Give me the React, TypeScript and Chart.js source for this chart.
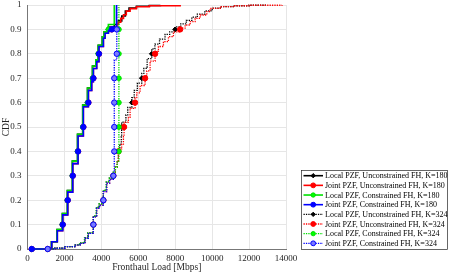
import React, { useEffect, useRef } from "react";
import { Chart, registerables } from "chart.js";
import { drawPoint } from "chart.js/helpers";

Chart.register(...registerables);

// ---------------- data ----------------
const xTickValues = [0, 2000, 4000, 6000, 8000, 10000, 12000, 14000];
const yTickValues = [0, 0.1, 0.2, 0.3, 0.4, 0.5, 0.6, 0.7, 0.8, 0.9, 1];
const markerLevels = [0.1, 0.2, 0.3, 0.4, 0.5, 0.6, 0.7, 0.8, 0.9];

const seriesNames = [
  "Local PZF, Unconstrained FH, K=180",
  "Joint PZF, Unconstrained FH, K=180",
  "Local PZF, Constrained FH, K=180",
  "Joint PZF, Constrained FH, K=180",
  "Local PZF, Unconstrained FH, K=324",
  "Joint PZF, Unconstrained FH, K=324",
  "Local PZF, Constrained FH, K=324",
  "Joint PZF, Constrained FH, K=324",
];

// K=180, Local PZF, Unconstrained
const localUncK180X = [230, 1094, 1300, 1600, 1890, 1890, 2160, 2160, 2430, 2430, 2710, 2710, 2990, 2990, 3250, 3250, 3430, 3520, 3520, 3700, 3830, 3830, 4050, 4150, 4380, 4380, 4700, 4923, 5105, 5300, 5500, 5900, 6600, 7200];
const localUncK180Y = [0, 0.003, 0.03, 0.08, 0.1, 0.145, 0.2, 0.24, 0.3, 0.36, 0.4, 0.47, 0.5, 0.59, 0.6, 0.66, 0.69, 0.7, 0.75, 0.775, 0.8, 0.835, 0.87, 0.89, 0.9, 0.91, 0.92, 0.935, 0.955, 0.975, 0.988, 0.995, 0.998, 1];
// K=180, Joint PZF, Unconstrained
const jointUncK180X = [230, 1094, 1310, 1615, 1907, 1907, 2178, 2178, 2450, 2450, 2737, 2737, 3025, 3025, 3297, 3297, 3477, 3568, 3568, 3748, 3870, 3870, 4110, 4200, 4380, 4563, 4835, 4923, 5050, 5200, 5350, 5556, 5900, 6600, 8266];
const jointUncK180Y = [0, 0.003, 0.03, 0.075, 0.1, 0.14, 0.2, 0.233, 0.3, 0.35, 0.4, 0.463, 0.5, 0.583, 0.6, 0.65, 0.686, 0.7, 0.74, 0.768, 0.8, 0.83, 0.864, 0.884, 0.895, 0.9, 0.92, 0.93, 0.945, 0.96, 0.975, 0.985, 0.993, 0.997, 1];
// K=180, Local PZF, Constrained
const localConK180X = [230, 1094, 1300, 1600, 1890, 1890, 2160, 2160, 2430, 2430, 2710, 2710, 2990, 2990, 3250, 3250, 3430, 3520, 3520, 3700, 3830, 3830, 4050, 4150, 4380, 4380, 4700, 4700];
const localConK180Y = [0, 0.003, 0.03, 0.08, 0.1, 0.145, 0.2, 0.24, 0.3, 0.36, 0.4, 0.47, 0.5, 0.59, 0.6, 0.66, 0.69, 0.7, 0.75, 0.775, 0.8, 0.835, 0.87, 0.89, 0.9, 0.92, 0.93, 1];
// K=180, Joint PZF, Constrained
const jointConK180X = [230, 1094, 1310, 1615, 1907, 1907, 2178, 2178, 2450, 2450, 2737, 2737, 3025, 3025, 3297, 3297, 3477, 3568, 3568, 3748, 3870, 3870, 4110, 4200, 4380, 4563, 4563, 4820, 4820];
const jointConK180Y = [0, 0.003, 0.03, 0.075, 0.1, 0.14, 0.2, 0.233, 0.3, 0.35, 0.4, 0.463, 0.5, 0.583, 0.6, 0.65, 0.686, 0.7, 0.74, 0.768, 0.8, 0.83, 0.864, 0.884, 0.895, 0.9, 0.91, 0.92, 1];

// K=324, Local PZF, Unconstrained
const localUncK324X = [1094, 1480, 2000, 2550, 2820, 3090, 3270, 3568, 3568, 3730, 3880, 4110, 4110, 4270, 4430, 4650, 4650, 4760, 4860, 4923, 5000, 5080, 5100, 5100, 5330, 5430, 5650, 5650, 5780, 5950, 6190, 6190, 6300, 6480, 6730, 6730, 6900, 7150, 7450, 7700, 7995, 7995, 8300, 8600, 8900, 9200, 9600, 10000, 10500, 11200, 12000, 12965];
const localUncK324Y = [0, 0.003, 0.01, 0.017, 0.025, 0.046, 0.066, 0.1, 0.135, 0.17, 0.185, 0.2, 0.24, 0.275, 0.29, 0.3, 0.315, 0.335, 0.36, 0.4, 0.43, 0.46, 0.5, 0.52, 0.55, 0.58, 0.6, 0.62, 0.65, 0.68, 0.7, 0.72, 0.74, 0.78, 0.8, 0.82, 0.84, 0.86, 0.88, 0.89, 0.9, 0.91, 0.923, 0.937, 0.95, 0.963, 0.976, 0.987, 0.993, 0.997, 0.999, 1];
// K=324, Joint PZF, Unconstrained
const jointUncK324X = [1094, 1490, 2033, 2575, 2846, 3117, 3297, 3568, 3568, 3748, 3900, 4110, 4110, 4290, 4450, 4650, 4650, 4760, 4860, 4923, 4923, 5100, 5195, 5230, 5230, 5465, 5556, 5827, 5827, 5918, 6098, 6369, 6369, 6460, 6640, 6911, 6911, 7091, 7362, 7633, 7904, 8266, 8266, 8537, 8808, 9079, 9350, 9711, 9892, 10434, 11138, 12000, 13780];
const jointUncK324Y = [0, 0.003, 0.01, 0.016, 0.023, 0.044, 0.064, 0.1, 0.132, 0.167, 0.18, 0.2, 0.235, 0.27, 0.285, 0.3, 0.31, 0.335, 0.36, 0.4, 0.41, 0.43, 0.46, 0.5, 0.52, 0.54, 0.576, 0.6, 0.62, 0.64, 0.67, 0.7, 0.71, 0.73, 0.77, 0.8, 0.81, 0.83, 0.85, 0.87, 0.89, 0.9, 0.905, 0.918, 0.932, 0.945, 0.959, 0.973, 0.986, 0.993, 0.997, 0.999, 1];
// K=324, Local PZF, Constrained
const localConK324X = [1094, 1480, 2000, 2550, 2820, 3090, 3270, 3568, 3568, 3730, 3880, 4110, 4110, 4270, 4430, 4650, 4650, 4760, 4860, 4950, 4950, 4950, 4950, 4950, 4950, 4950, 4950];
const localConK324Y = [0, 0.003, 0.01, 0.017, 0.025, 0.046, 0.066, 0.1, 0.135, 0.17, 0.185, 0.2, 0.24, 0.275, 0.29, 0.3, 0.315, 0.335, 0.36, 0.38, 0.4, 0.5, 0.6, 0.7, 0.8, 0.9, 1];
// K=324, Joint PZF, Constrained
const jointConK324X = [1094, 1490, 2033, 2575, 2846, 3117, 3297, 3568, 3568, 3748, 3900, 4110, 4110, 4290, 4450, 4650, 4650, 4700, 4700, 4700, 4700, 4700, 4700, 4835, 4835, 4835];
const jointConK324Y = [0, 0.003, 0.01, 0.016, 0.023, 0.044, 0.064, 0.1, 0.132, 0.167, 0.18, 0.2, 0.235, 0.27, 0.285, 0.3, 0.31, 0.33, 0.4, 0.5, 0.6, 0.7, 0.775, 0.8, 0.9, 1];

const seriesX = [localUncK180X, jointUncK180X, localConK180X, jointConK180X, localUncK324X, jointUncK324X, localConK324X, jointConK324X];
const seriesY = [localUncK180Y, jointUncK180Y, localConK180Y, jointConK180Y, localUncK324Y, jointUncK324Y, localConK324Y, jointConK324Y];

// ---------------- styles ----------------
const FONT = "'Liberation Serif', 'Times New Roman', serif";
const TEXT = "#262626";
const colors = ["#000000", "#ff0000", "#00e000", "#0000ff", "#000000", "#ff0000", "#00e000", "#0000ff"];
const markerFill = ["#000000", "#ff0000", "#00ff00", "#0000ff", "#000000", "#ff0000", "#00ff00", "#7a7aff"];
const markerStyle = ["rectRot", "circle", "circle", "circle", "rectRot", "circle", "circle", "circle"];
const markerRadius = [2.4, 2.7, 2.4, 2.7, 2.4, 2.7, 2.4, 2.7];
const dashed = [false, false, false, false, true, true, true, true];

function isMarker(ys: number[], i: number): boolean {
  if (i === 0) return true;
  const y = ys[i];
  if (ys[i - 1] === y) return false;
  return markerLevels.some((m) => Math.abs(m - y) < 1e-9);
}

const legendPlugin = {
  id: "boxLegend",
  afterDraw(chart: any) {
    const ctx = chart.ctx as CanvasRenderingContext2D;
    ctx.save();
    const x0 = 301.5, y0 = 170.5, w = 146, h = 79;
    ctx.fillStyle = "#ffffff";
    ctx.fillRect(x0, y0, w, h);
    ctx.strokeStyle = "#262626";
    ctx.lineWidth = 0.7;
    ctx.setLineDash([]);
    ctx.strokeRect(x0, y0, w, h);
    seriesNames.forEach((name, i) => {
      const cy = 175.7 + i * 9.66;
      ctx.beginPath();
      ctx.setLineDash(dashed[i] ? [1.3, 1.1] : []);
      ctx.strokeStyle = colors[i];
      ctx.lineWidth = dashed[i] ? 1.3 : 1.6;
      ctx.moveTo(303.5, cy);
      ctx.lineTo(323, cy);
      ctx.stroke();
      ctx.setLineDash([]);
      ctx.fillStyle = markerFill[i];
      ctx.strokeStyle = colors[i];
      ctx.lineWidth = 1;
      drawPoint(ctx, { pointStyle: markerStyle[i], radius: markerRadius[i] * 0.9, borderWidth: 1, rotation: 0 } as any, 313.2, cy);
      ctx.fillStyle = "#000000";
      ctx.font = `8px ${FONT}`;
      ctx.textBaseline = "middle";
      ctx.textAlign = "left";
      ctx.fillText(name, 325, cy + 0.5);
    });
    ctx.restore();
  },
};

export default function App() {
  const ref = useRef<HTMLCanvasElement | null>(null);
  useEffect(() => {
    if (!ref.current) return;
    const datasets = seriesNames.map((name, i) => {
      const xs = seriesX[i];
      const ys = seriesY[i];
      return {
        label: name,
        data: xs.map((x, j) => ({ x, y: ys[j] })),
        borderColor: colors[i],
        backgroundColor: markerFill[i],
        pointBackgroundColor: markerFill[i],
        pointBorderColor: colors[i],
        pointBorderWidth: 1,
        pointStyle: markerStyle[i],
        pointRadius: (c: any) => (isMarker(ys, c.dataIndex) ? markerRadius[i] : 0),
        borderWidth: dashed[i] ? 1.3 : 1.6,
        borderDash: dashed[i] ? [1.3, 1.1] : [],
        stepped: "before",
        fill: false,
        order: 10 - i,
        clip: 6,
      };
    });
    const chart = new Chart(ref.current, {
      type: "line",
      data: { datasets: datasets as any },
      options: {
        responsive: false,
        animation: false,
        layout: { padding: { left: 0, right: 165, top: 5, bottom: 0 } },
        plugins: { legend: { display: false }, tooltip: { enabled: false } },
        scales: {
          x: {
            type: "linear",
            min: 0,
            max: 14000,
            afterBuildTicks: (s: any) => {
              s.ticks = xTickValues.map((v) => ({ value: v }));
            },
            ticks: {
              font: { family: FONT, size: 9 },
              color: TEXT,
              padding: 4,
              maxRotation: 0,
              autoSkip: false,
              callback: (v: any) => String(v),
            },
            grid: { color: "#e6e6e6", drawTicks: false },
            border: { color: "#777777", width: 1 },
            title: { display: true, text: "Fronthaul Load [Mbps]", font: { family: FONT, size: 9.5 }, color: TEXT, padding: { top: 0, bottom: 3 } },
            afterFit: (s: any) => {
              s.height = 27;
              s.paddingLeft = 0;
              s.paddingRight = 0;
            },
          },
          y: {
            type: "linear",
            min: 0,
            max: 1,
            afterBuildTicks: (s: any) => {
              s.ticks = yTickValues.map((v) => ({ value: v }));
            },
            ticks: {
              font: { family: FONT, size: 9 },
              color: TEXT,
              padding: 6,
              autoSkip: false,
              callback: (v: any) => String(Math.round(Number(v) * 10) / 10),
            },
            grid: { color: "#e6e6e6", drawTicks: false },
            border: { color: "#777777", width: 1 },
            title: { display: true, text: "CDF", font: { family: FONT, size: 9.5 }, color: TEXT, padding: { top: 1, bottom: 0 } },
            afterFit: (s: any) => {
              s.width = 27.5;
              s.paddingTop = 0;
              s.paddingBottom = 0;
            },
          },
        },
      },
      plugins: [legendPlugin],
    });
    return () => chart.destroy();
  }, []);
  return (
    <div style={{ position: "fixed", left: 0, top: 0, width: 451, height: 276, background: "#fff" }}>
      <canvas ref={ref} width={451} height={276} style={{ width: 451, height: 276 }} />
    </div>
  );
}
